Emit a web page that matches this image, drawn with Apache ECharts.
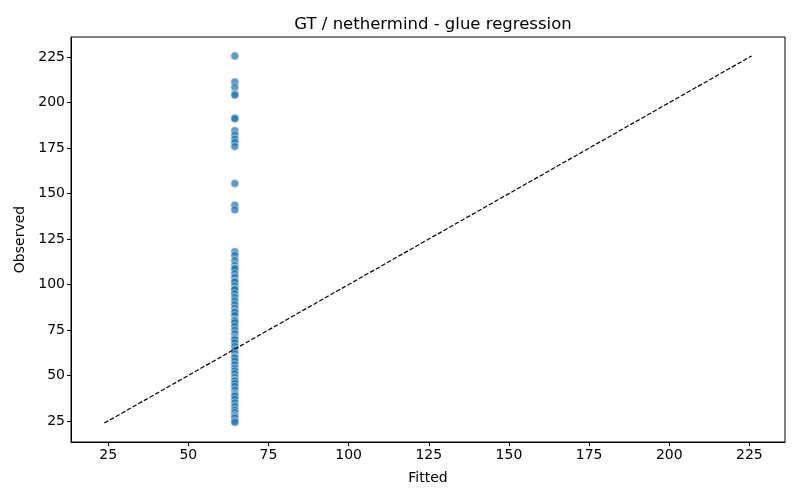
<!DOCTYPE html>
<html lang="en">
<head>
    <meta charset="UTF-8">
    <title>GT / nethermind - glue regression</title>
    <script src="https://cdn.jsdelivr.net/npm/echarts@6/dist/echarts.min.js"></script>
    <style>
        html, body { margin: 0; padding: 0; background: #fff; }
        #chart { width: 800px; height: 500px; }
    </style>
</head>
<body>
<div id="chart"></div>
<script>
    // fitted value is the same for every point
    var fittedValue = 64.5;
    var observed = [
        225.7, 211.4, 208.4, 204.8, 204.2, 191.6, 191.2, 184.6, 182.2, 180.0,
        178.2, 175.9, 155.6, 143.6, 141.1,
        118.0, 116.0, 113.2, 110.5, 109.0, 108.6, 106.0, 104.0, 101.8, 101.4,
        99.2, 97.6, 97.2, 95.0, 93.0, 91.0, 89.0, 87.0, 85.2, 84.8, 83.0,
        80.6, 80.0, 79.0, 77.0, 75.0, 73.0, 71.0, 70.2, 69.6, 68.0, 66.0,
        64.0, 62.0, 60.2, 59.6, 58.0, 56.0, 54.0, 52.6, 51.0, 49.0, 47.4,
        47.0, 45.6, 44.0, 42.0, 40.0, 39.2, 38.6, 37.0, 35.0, 33.0, 31.0,
        29.6, 28.0, 27.2, 26.6, 25.0, 24.2
    ];
    // dashed y = x reference line end points
    var refLine = [23.8, 225.7];
    var tickValues = [25, 50, 75, 100, 125, 150, 175, 200, 225];
    var axisMin = 13.4;
    var axisMax = 236.1;

    var points = [];
    for (var i = 0; i < observed.length; i++) {
        points.push([fittedValue, observed[i]]);
    }
    var linePts = [];
    for (var j = 0; j < refLine.length; j++) {
        linePts.push([refLine[j], refLine[j]]);
    }

    var font = 'DejaVu Sans';
    function axisCfg(name, gap) {
        return {
            type: 'value',
            min: axisMin,
            max: axisMax,
            name: name,
            nameLocation: 'middle',
            nameGap: gap,
            nameTextStyle: { color: '#000', fontSize: 14, fontFamily: font },
            splitLine: { show: false },
            axisLine: { show: true, onZero: false, lineStyle: { color: '#000', width: 1 } },
            axisTick: { show: true, inside: false, length: 4, customValues: tickValues,
                lineStyle: { color: '#000', width: 1 } },
            axisLabel: { show: true, customValues: tickValues, color: '#000',
                fontSize: 14, fontFamily: font, margin: 6 }
        };
    }

    var myChart = echarts.init(document.getElementById('chart'));
    var option = {
        animation: false,
        backgroundColor: '#fff',
        title: {
            text: 'GT / nethermind - glue regression',
            left: 428,
            top: 11,
            textAlign: 'center',
            textStyle: { color: '#000', fontSize: 16.5, fontWeight: 'normal', fontFamily: font }
        },
        grid: {
            left: 71, right: 15, top: 37, bottom: 58,
            show: true, borderColor: '#000', borderWidth: 1, backgroundColor: 'transparent'
        },
        xAxis: axisCfg('Fitted', 29),
        yAxis: axisCfg('Observed', 42),
        series: [
            {
                name: 'ref',
                type: 'line',
                data: linePts,
                symbol: 'none',
                silent: true,
                lineStyle: { color: '#000', width: 1.2, type: [4.5, 2] },
                z: 3
            },
            {
                name: 'obs',
                type: 'scatter',
                data: points,
                symbolSize: 8,
                itemStyle: { color: '#1f77b4', opacity: 0.72, borderColor: '#fff', borderWidth: 0.6 },
                z: 2
            }
        ]
    };
    myChart.setOption(option);
</script>
</body>
</html>
